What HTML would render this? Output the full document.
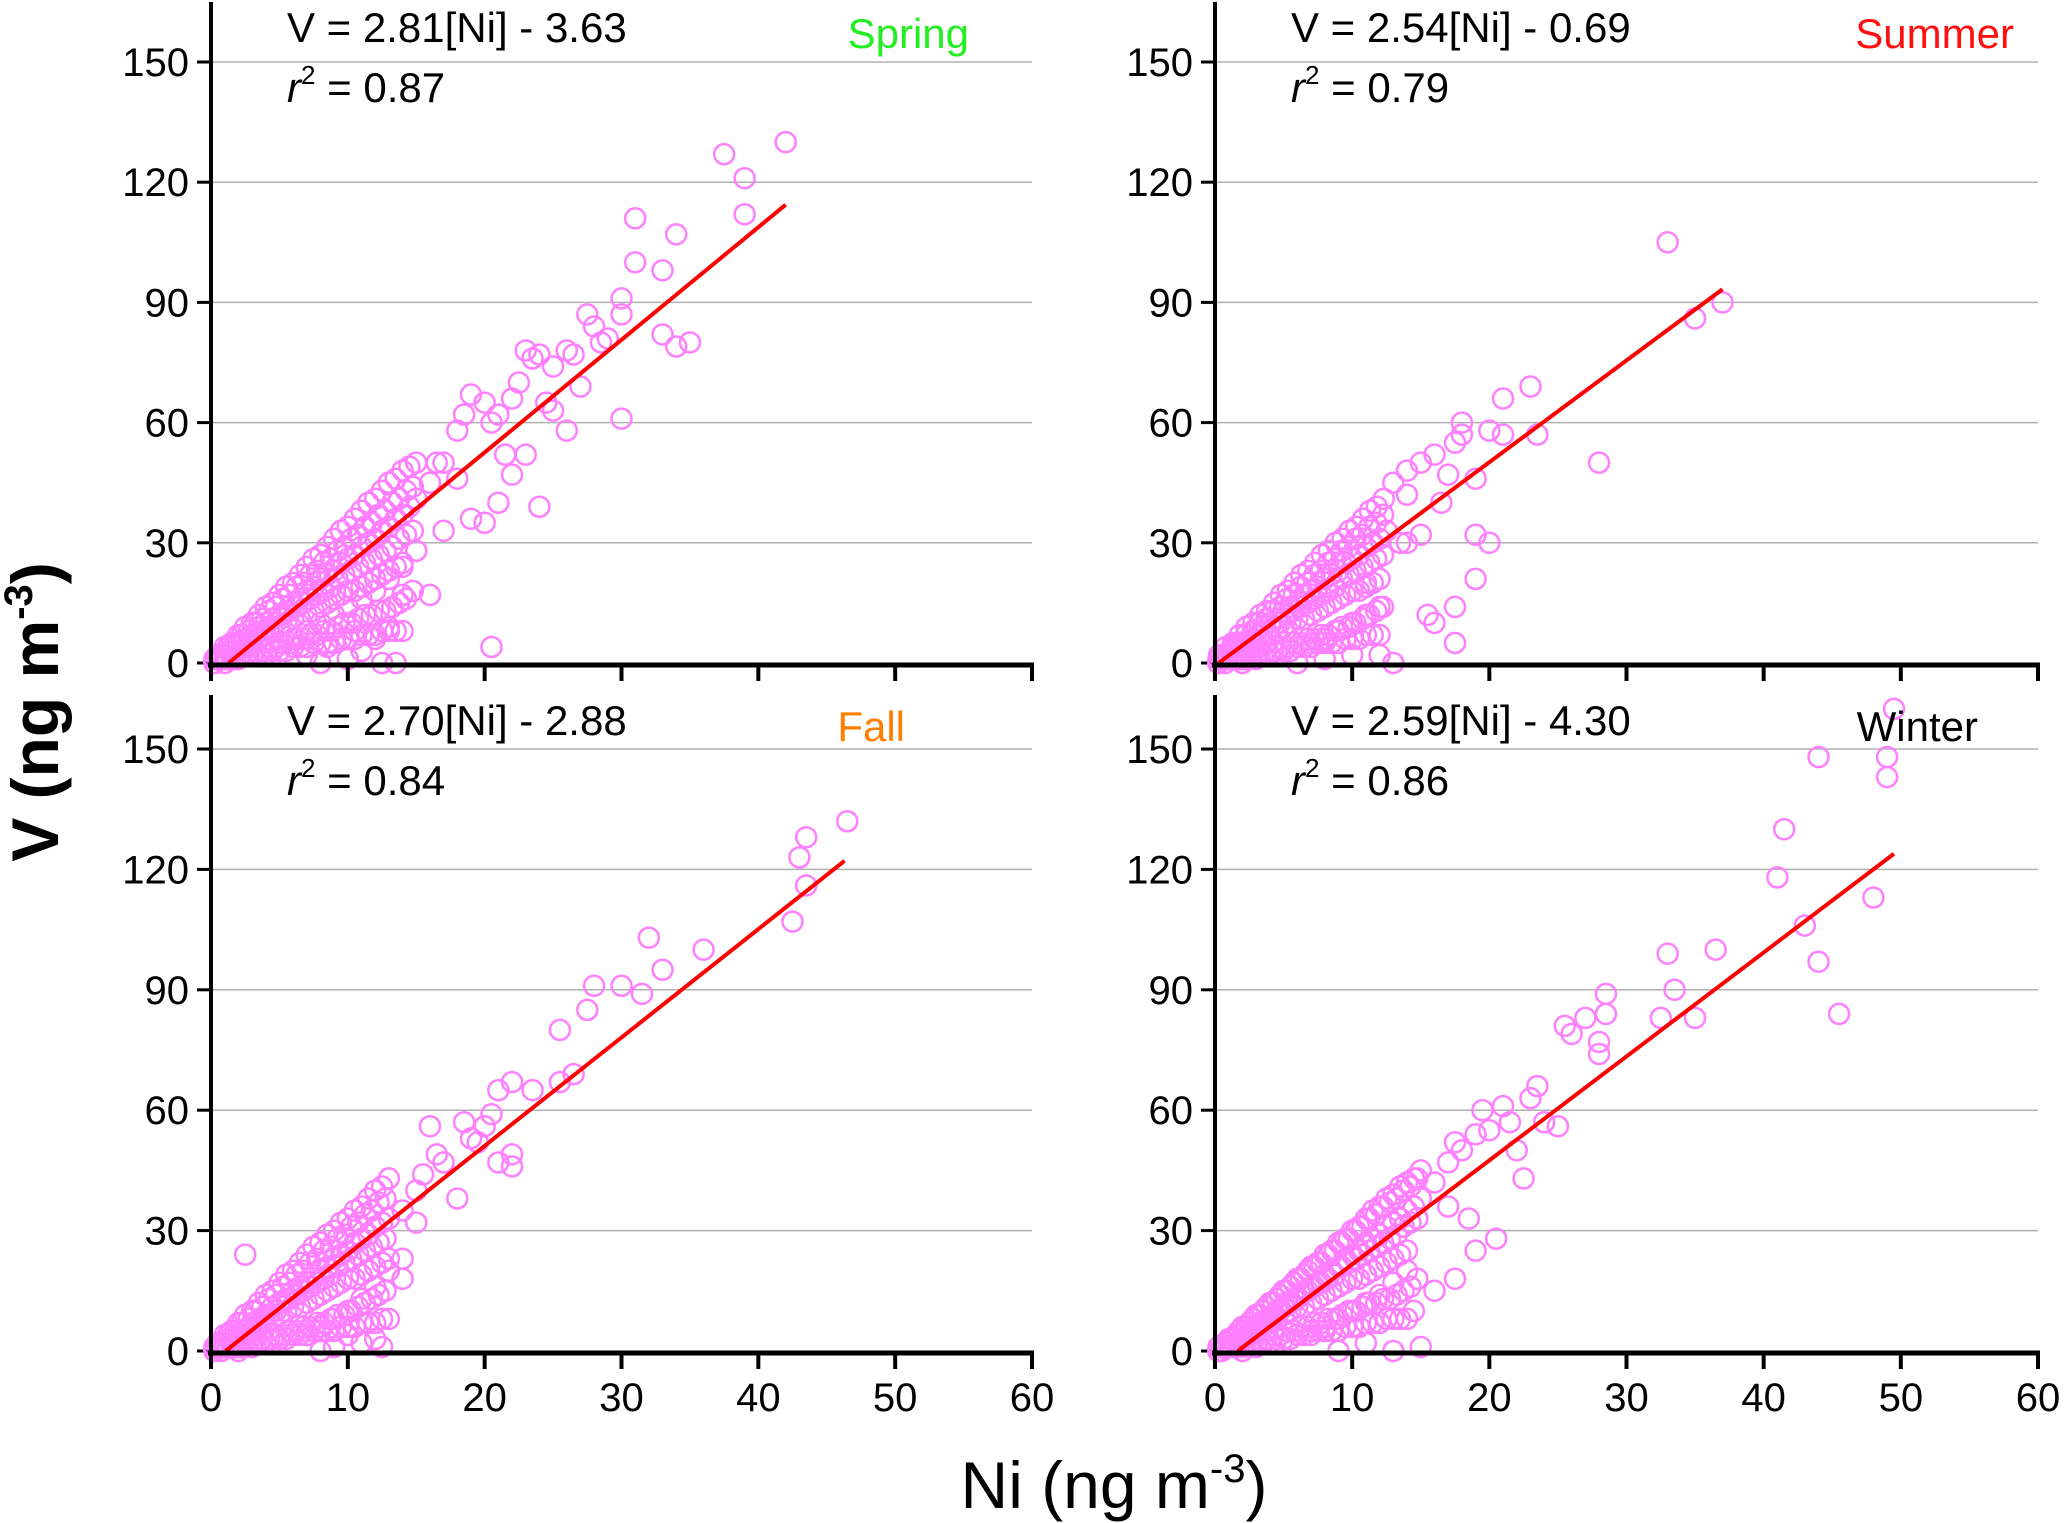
<!DOCTYPE html>
<html><head><meta charset="utf-8"><style>
body{margin:0;background:#fff}
svg{display:block;font-family:"Liberation Sans",sans-serif}
</style></head><body>
<svg id="c" width="2067" height="1523" viewBox="0 0 2067 1523">
<text x="1114" y="1508" font-size="66" text-anchor="middle">Ni (ng m<tspan font-size="40" dy="-26">-3</tspan><tspan dy="26">)</tspan></text>
<text transform="translate(58,712) rotate(-90)" font-size="66" font-weight="bold" text-anchor="middle">V (ng m<tspan font-size="40" dy="-26">-3</tspan><tspan dy="26">)</tspan></text>
</svg>
<script>
const xTicks=[0,10,20,30,40,50,60];
const yTicks=[0,30,60,90,120,150];
// Spring
const springNi=[0.5,1,1.5,2,2.5,3,3.5,4,4.5,5,5.5,6,6.5,7,7.5,8,8.5,9,9.5,10,10.5,11,11.5,12,12.5,13,13.5,14,14.5,15,
0.5,1,1.5,2,2.5,3,3.5,4,4.5,5,5.5,6,6.5,7,7.5,8,8.5,9,9.5,10,10.5,11,11.5,12,12.5,13,13.5,14,14.5,15,
1,2,3,4,5,6,7,8,9,10,11,12,13,14,15,7,8,9,10,11,12,12.5,13,8.5,10.5,14,13.5,
16,17,18,18.5,19,20,20.5,21,22,22.5,23,23.5,24,25,26,26.5,27,27.5,28,28.5,29,30,30,30,31,31,33,33,34,34,35,37.5,39,39,42,25,24,22,21,20,19,17,16,15,20.5,16.5,18,21.5,23,26,24.5];
const springV=[2,4,5,7,9,10,12,14,15,17,19,20,22,24,26,27,29,31,33,34,36,38,40,41,43,45,46,48,49,50,
1,2,3,5,6,7,9,10,11,12,13,15,16,18,19,21,22,23,25,26,27,29,30,31,33,34,36,37,39,41,
0,1,2,3,5,6,8,10,12,14,16,18,21,24,28,2,0,5,1,3,6,0,9,4,8,17,0,
45,50,58,62,67,65,60,62,66,70,78,76,77,74,78,77,69,87,84,80,81,91,87,61,100,111,98,82,107,79,80,127,121,112,130,63,39,47,40,35,36,33,17,28,4,50,46,52,52,58,65];
const springNi2=[0.25,0.75,1.25,1.75,2.25,2.75,3.25,3.75,4.25,4.75,5.25,5.75,6.25,6.75,7.25,7.75,8.25,8.75,9.25,9.75,10.25,10.75,11.25,11.75,12.25,12.75,13.25,13.75,14.25,14.75,
0.25,0.75,1.25,1.75,2.25,2.75,3.25,3.75,4.25,4.75,5.25,5.75,6.25,6.75,7.25,7.75,8.25,8.75,9.25,9.75,10.25,10.75,11.25,11.75,12.25,12.75,13.25,13.75,14.25,14.75,
0.25,0.75,1.25,1.75,2.25,2.75,3.25,3.75,4.25,4.75,5.25,5.75,6.25,6.75,7.25,7.75,8.25,8.75,9.25,9.75,10.25,10.75,11.25,11.75,12.25,12.75,13.25,13.75,14.25,14.75];
const springV2=[1,2,4,5,7,8,10,11,13,14,16,17,19,20,22,23,25,26,28,29,31,32,34,35,37,38,40,41,43,44,
0,2,3,4,5,6,7,8,9,10,12,13,14,15,16,17,18,19,21,22,23,24,25,26,27,28,29,31,32,33,
0,1,1,1,2,2,3,3,4,4,5,5,6,6,7,7,8,8,9,10,10,11,12,12,13,13,14,15,16,18];
const springNi3=[1,1.5,2,2.5,3,3.5,4,4.5,5,5.5,6,6.5,7,7.5,8,8.5,9,9.5,10,10.5,11,11.5,12,12.5,13,13.5,14,
1,1.5,2,2.5,3,3.5,4,4.5,5,5.5,6,6.5,7,7.5,8,8.5,9,9.5,10,10.5,11,11.5,12,12.5,13,13.5,14];
const springV3=[2,3,4,4,5,6,7,8,9,10,11,11,12,13,14,15,16,17,18,18,19,20,21,22,23,24,25,
1,1,1,2,2,2,2,3,3,3,4,4,4,5,5,5,5,6,6,6,7,7,7,8,8,8,8];
// Summer
const summerNi=[0.3,0.8,1.3,1.8,2.3,2.8,3.3,3.8,4.3,4.8,5.3,5.8,6.3,6.8,7.3,7.8,8.3,8.8,9.3,9.8,10.3,10.8,11.3,11.8,12.3,
0.5,1,1.5,2,2.5,3,3.5,4,4.5,5,5.5,6,6.5,7,7.5,8,8.5,9,9.5,10,10.5,11,11.5,12,12.5,
2,3,4,5,6,7,8,9,10,11,12,6,8,10,11,
13,14,15,16,17,17.5,18,18,19,20,21,21,23,23.5,28,33,35,37,20,19,19,15.5,16,17.5,17.5,14,15,13,12,16.5,14,13.5];
const summerV=[2,4,5,7,9,10,12,13,15,17,18,20,22,23,25,27,28,30,31,33,34,36,38,39,41,
1,2,4,5,6,8,9,10,11,13,14,15,17,18,19,21,22,23,25,26,27,29,30,31,33,
0,1,2,3,4,5,6,8,10,12,14,0,1,2,20,
45,48,50,52,47,55,60,57,46,58,66,57,69,57,50,105,86,90,30,32,21,12,10,14,5,30,32,0,2,40,42,30];
const summerNi2=[0.25,0.75,1.25,1.75,2.25,2.75,3.25,3.75,4.25,4.75,5.25,5.75,6.25,6.75,7.25,7.75,8.25,8.75,9.25,9.75,10.25,10.75,11.25,11.75,12.25,
0.25,0.75,1.25,1.75,2.25,2.75,3.25,3.75,4.25,4.75,5.25,5.75,6.25,6.75,7.25,7.75,8.25,8.75,9.25,9.75,10.25,10.75,11.25,11.75,12.25,
0.25,0.75,1.25,1.75,2.25,2.75,3.25,3.75,4.25,4.75,5.25,5.75,6.25,6.75,7.25,7.75,8.25,8.75,9.25,9.75,10.25,10.75,11.25,11.75,12.25];
const summerV2=[1,2,4,5,7,8,10,11,13,14,16,17,19,20,22,23,25,26,28,29,31,32,34,35,37,
0,2,3,4,5,6,7,8,9,10,12,13,14,15,16,17,18,19,21,22,23,24,25,26,27,
0,0,1,1,1,2,2,3,3,4,4,5,5,6,6,7,7,8,9,9,10,11,12,13,14];
const summerNi3=[1,1.5,2,2.5,3,3.5,4,4.5,5,5.5,6,6.5,7,7.5,8,8.5,9,9.5,10,10.5,11,11.5,12,
1,1.5,2,2.5,3,3.5,4,4.5,5,5.5,6,6.5,7,7.5,8,8.5,9,9.5,10,10.5,11,11.5,12];
const summerV3=[2,3,4,4,5,6,7,8,9,10,11,11,12,13,14,15,16,17,18,18,19,20,21,
1,1,1,2,2,2,2,3,3,3,4,4,4,5,5,5,5,6,6,6,7,7,7];
// Fall
const fallNi=[0.5,1,1.5,2,2.5,3,3.5,4,4.5,5,5.5,6,6.5,7,7.5,8,8.5,9,9.5,10,10.5,11,11.5,12,12.5,13,
0.5,1,1.5,2,2.5,3,3.5,4,4.5,5,5.5,6,6.5,7,7.5,8,8.5,9,9.5,10,10.5,11,11.5,12,12.5,13,
2,3,4,5,6,7,8,9,10,11,12,13,8,9,11,
2.5,14,15,15.5,16,16.5,17,18,18.5,19,19.5,20,20.5,21,21,22,22,22,23.5,25.5,26.5,25.5,27.5,28,30,31.5,32,33,36,42.5,43,43.5,43.5,46.5,14,14,12,12.5,10,15];
const fallV=[2,4,5,7,9,10,12,14,15,17,19,20,22,24,26,27,29,30,32,33,35,36,38,40,41,43,
1,2,3,4,5,7,8,9,11,12,13,15,16,17,19,20,21,23,24,25,27,28,29,31,32,33,
0,1,2,3,4,5,6,8,10,13,16,20,0,1,2,
24,35,40,44,56,49,47,38,57,53,52,56,59,47,65,67,49,46,65,67,69,80,85,91,91,89,103,95,100,107,123,128,116,132,23,18,3,1,4,32];
const fallNi2=[0.25,0.75,1.25,1.75,2.25,2.75,3.25,3.75,4.25,4.75,5.25,5.75,6.25,6.75,7.25,7.75,8.25,8.75,9.25,9.75,10.25,10.75,11.25,11.75,12.25,12.75,
0.25,0.75,1.25,1.75,2.25,2.75,3.25,3.75,4.25,4.75,5.25,5.75,6.25,6.75,7.25,7.75,8.25,8.75,9.25,9.75,10.25,10.75,11.25,11.75,12.25,12.75,
0.25,0.75,1.25,1.75,2.25,2.75,3.25,3.75,4.25,4.75,5.25,5.75,6.25,6.75,7.25,7.75,8.25,8.75,9.25,9.75,10.25,10.75,11.25,11.75,12.25,12.75];
const fallV2=[1,2,4,5,7,8,10,11,13,14,16,17,19,20,22,23,25,26,28,29,31,32,34,35,37,38,
0,2,3,4,5,6,7,8,9,10,12,13,14,15,16,17,18,19,21,22,23,24,25,26,27,28,
0,0,1,1,1,2,2,3,3,4,4,5,5,6,6,7,7,8,9,9,10,11,12,13,14,15];
const fallNi3=[1,1.5,2,2.5,3,3.5,4,4.5,5,5.5,6,6.5,7,7.5,8,8.5,9,9.5,10,10.5,11,11.5,12,12.5,13,
1,1.5,2,2.5,3,3.5,4,4.5,5,5.5,6,6.5,7,7.5,8,8.5,9,9.5,10,10.5,11,11.5,12,12.5,13];
const fallV3=[2,3,4,4,5,6,7,8,9,10,11,11,12,13,14,15,16,17,18,18,19,20,21,22,23,
1,1,1,2,2,2,2,3,3,3,4,4,4,5,5,5,5,6,6,6,7,7,7,8,8];
// Winter
const winterNi=[0.5,1,1.5,2,2.5,3,3.5,4,4.5,5,5.5,6,6.5,7,7.5,8,8.5,9,9.5,10,10.5,11,11.5,12,12.5,13,13.5,14,14.5,15,
0.5,1,1.5,2,2.5,3,3.5,4,4.5,5,5.5,6,6.5,7,7.5,8,8.5,9,9.5,10,10.5,11,11.5,12,12.5,13,13.5,14,14.5,15,
2,3,4,5,6,7,8,9,10,11,12,13,14,9,11,
16,17,17.5,18,19,19.5,20,21,21.5,22,22.5,23,23.5,24,25,25.5,26,27,28,28,28.5,28.5,32.5,33,33.5,35,36.5,41,41.5,43,44,44,45.5,48,49,49,49.5,17.5,19,20.5,18.5,16,15,14.5,13,17];
const winterV=[1,3,4,6,7,9,10,12,13,15,16,18,19,21,22,24,25,27,28,30,31,33,35,36,38,39,41,42,43,45,
0,1,2,3,4,6,7,8,10,11,12,13,15,16,17,19,20,21,23,24,25,27,28,29,31,32,33,35,36,38,
0,1,2,3,4,5,6,8,10,12,14,17,20,0,2,
42,47,52,50,54,60,55,61,57,50,43,63,66,57,56,81,79,83,77,74,84,89,83,99,90,83,100,118,130,106,148,97,84,113,143,148,160,18,25,28,33,15,1,10,0,36];
const winterNi2=[0.25,0.75,1.25,1.75,2.25,2.75,3.25,3.75,4.25,4.75,5.25,5.75,6.25,6.75,7.25,7.75,8.25,8.75,9.25,9.75,10.25,10.75,11.25,11.75,12.25,12.75,13.25,13.75,14.25,14.75,
0.25,0.75,1.25,1.75,2.25,2.75,3.25,3.75,4.25,4.75,5.25,5.75,6.25,6.75,7.25,7.75,8.25,8.75,9.25,9.75,10.25,10.75,11.25,11.75,12.25,12.75,13.25,13.75,14.25,14.75,
0.25,0.75,1.25,1.75,2.25,2.75,3.25,3.75,4.25,4.75,5.25,5.75,6.25,6.75,7.25,7.75,8.25,8.75,9.25,9.75,10.25,10.75,11.25,11.75,12.25,12.75,13.25,13.75,14.25,14.75];
const winterV2=[1,2,3,5,6,8,9,11,12,14,15,17,18,20,21,22,24,25,27,28,30,31,33,34,36,37,38,40,41,43,
0,2,3,4,5,6,7,8,9,10,12,13,14,15,16,17,18,19,21,22,23,24,25,26,27,28,29,31,32,33,
0,1,1,1,2,2,3,3,4,4,5,5,6,6,7,7,8,8,9,10,10,11,12,12,13,13,14,15,16,18];
const winterNi3=[1,1.5,2,2.5,3,3.5,4,4.5,5,5.5,6,6.5,7,7.5,8,8.5,9,9.5,10,10.5,11,11.5,12,12.5,13,13.5,14,
1,1.5,2,2.5,3,3.5,4,4.5,5,5.5,6,6.5,7,7.5,8,8.5,9,9.5,10,10.5,11,11.5,12,12.5,13,13.5,14];
const winterV3=[2,3,4,4,5,6,7,8,9,10,11,11,12,13,14,15,16,17,18,18,19,20,21,22,23,24,25,
1,1,1,2,2,2,2,3,3,3,4,4,4,5,5,5,5,6,6,6,7,7,7,8,8,8,8];
const slopes=[2.81,2.54,2.70,2.59];
const intercepts=[-3.63,-0.69,-2.88,-4.30];
const r2=[0.87,0.79,0.84,0.86];
const lineEnds=[42,37,46.3,49.5];
const seasons=["Spring","Summer","Fall","Winter"];

const NS="http://www.w3.org/2000/svg";
const svg=document.getElementById('c');
function mk(tag,attrs,parent){const e=document.createElementNS(NS,tag);for(const k in attrs)e.setAttribute(k,attrs[k]);(parent||svg).appendChild(e);return e;}
const panels=[
 {x0:211,x60:1032,y0:663,y150:62,top:2,labels:false,ni:springNi.concat(springNi2,springNi3),v:springV.concat(springV2,springV3),col:"#22ee22",sx:969},
 {x0:1215,x60:2038,y0:663,y150:62,top:2,labels:false,ni:summerNi.concat(summerNi2,summerNi3),v:summerV.concat(summerV2,summerV3),col:"#ff1010",sx:2014},
 {x0:211,x60:1032,y0:1351,y150:749,top:695,labels:true,ni:fallNi.concat(fallNi2,fallNi3),v:fallV.concat(fallV2,fallV3),col:"#ff8000",sx:905},
 {x0:1215,x60:2038,y0:1351,y150:749,top:695,labels:true,ni:winterNi.concat(winterNi2,winterNi3),v:winterV.concat(winterV2,winterV3),col:"#000",sx:1978}
];
panels.forEach((p,i)=>{
 const X=n=>p.x0+(p.x60-p.x0)*n/60;
 const Y=v=>p.y0-(p.y0-p.y150)*v/150;
 const g=mk('g',{});
 
 
 yTicks.forEach(t=>{
  if(t>0){const gl=mk('line',{x1:p.x0,x2:p.x60,y1:Y(t),y2:Y(t),stroke:'#b0b0b0','stroke-width':1.5},g);
   
   }
  const tk=mk('line',{x1:p.x0-14,x2:p.x0,y1:Y(t),y2:Y(t),stroke:'#000','stroke-width':3},g);
  
  
  const tl=mk('text',{x:p.x0-22,y:Y(t)+14,'font-size':40,'text-anchor':'end'},g);
  tl.textContent=t;
  
  
 });
 for(let k=0;k<p.ni.length;k++){
  const c=mk('circle',{cx:X(p.ni[k]),cy:Y(p.v[k]),r:10,fill:'none',stroke:'#ff80ff','stroke-width':2.5},g);
  
  
 }
 const xs=-intercepts[i]/slopes[i];
 const ln=mk('line',{x1:X(xs),y1:Y(0),x2:X(lineEnds[i]),y2:Y(slopes[i]*lineEnds[i]+intercepts[i]),stroke:'#ff0000','stroke-width':4},g);
 
 
 const ya=mk('line',{x1:p.x0,x2:p.x0,y1:p.top,y2:p.y0+3,stroke:'#000','stroke-width':4},g);
 
 
 const xa=mk('line',{x1:p.x0-3,x2:p.x60+2,y1:p.y0+2,y2:p.y0+2,stroke:'#000','stroke-width':5},g);
 
 
 xTicks.forEach(t=>{
  const tk=mk('line',{x1:X(t),x2:X(t),y1:p.y0,y2:p.y0+18,stroke:'#000','stroke-width':4},g);
  
  
  if(p.labels){const tl=mk('text',{x:X(t),y:p.y0+60,'font-size':40,'text-anchor':'middle'},g);
   tl.textContent=t;
   
   }
 });
 const eq=mk('text',{x:p.x0+76,y:p.top+40,'font-size':42},g);
 eq.textContent='V = '+slopes[i].toFixed(2)+'[Ni] - '+Math.abs(intercepts[i]).toFixed(2);
 
 
 const rt=mk('text',{x:p.x0+76,y:p.top+100,'font-size':42},g);
 rt.innerHTML='<tspan font-style="italic">r</tspan><tspan font-size="26" dy="-18">2</tspan><tspan dy="18"> = '+r2[i].toFixed(2)+'</tspan>';
 
 
 const st=mk('text',{x:p.sx,y:p.top+46,'font-size':42,'text-anchor':'end',fill:p.col},g);
 st.textContent=seasons[i];
 
 
});
</script>
</body></html>
